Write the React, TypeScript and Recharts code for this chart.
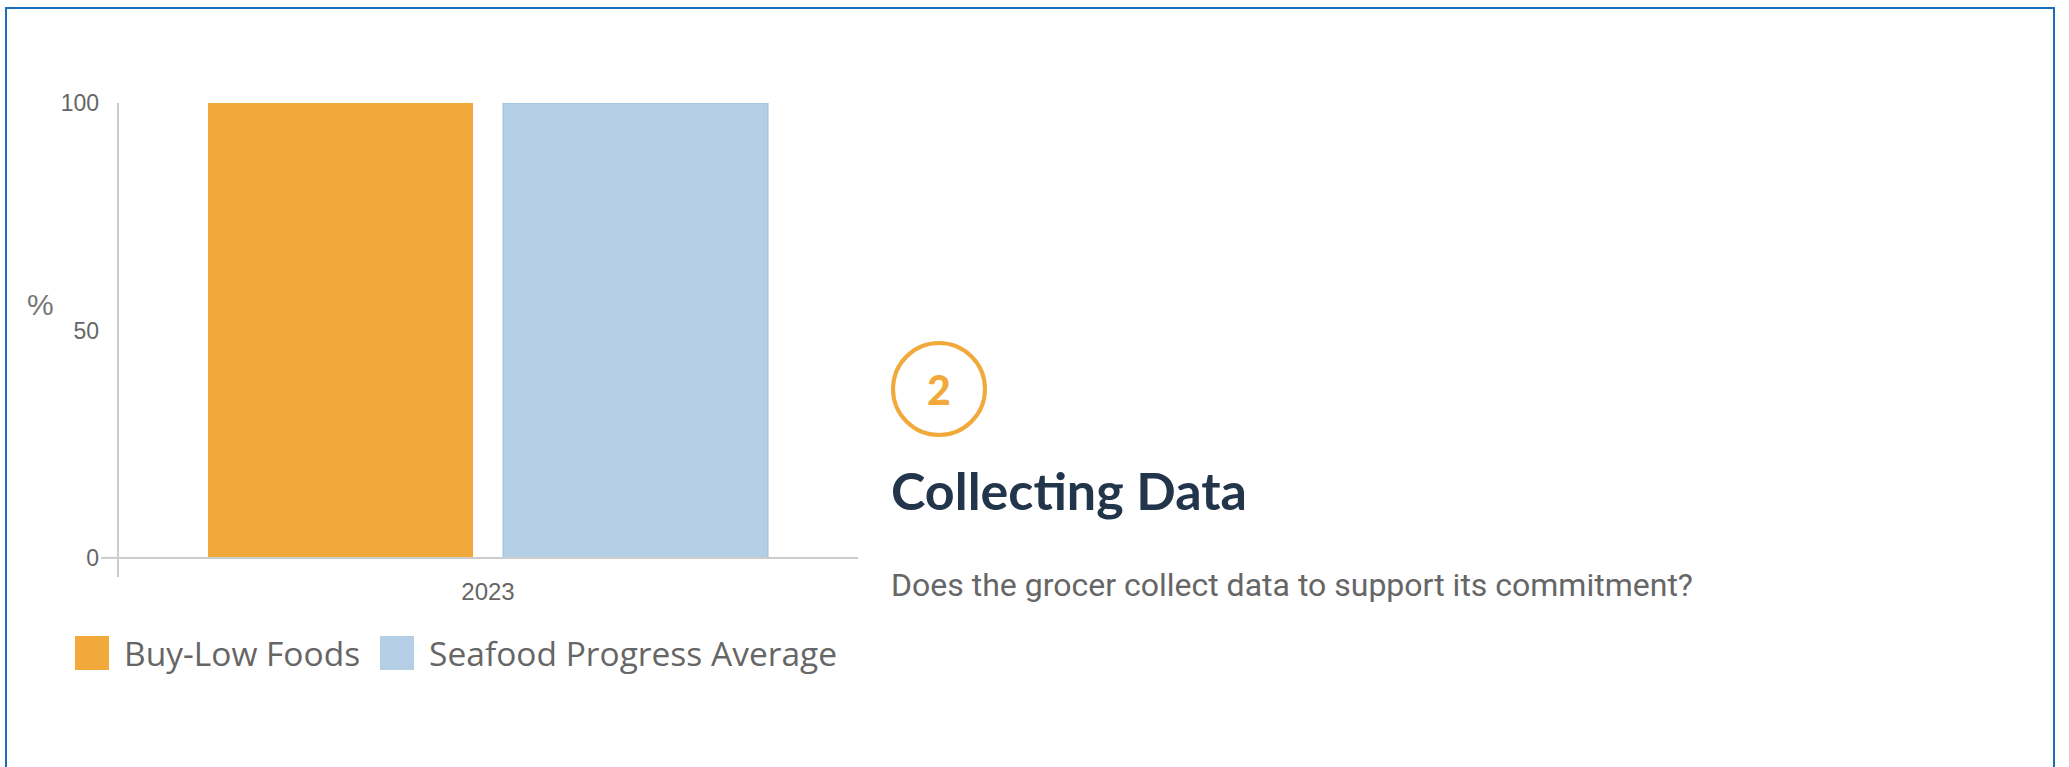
import React from "react";
import {
  BarChart,
  Bar,
  XAxis,
  YAxis,
  ReferenceLine,
} from "recharts";

const categories = ["2023"];
const buyLowValues = [100];
const averageValues = [100];
const yTicks = [0, 50, 100];

const seriesNames = ["Buy-Low Foods", "Seafood Progress Average"];
const seriesColors = ["#F2A93B", "#B3CEE5"];

const chartData = categories.map((year, i) => ({
  name: year,
  buyLow: buyLowValues[i],
  average: averageValues[i],
}));

const AXIS_GREY = "#cccccc";
const TEXT_GREY = "#666666";

const YTick: React.FC<any> = ({ x, y, payload }) => {
  return (
    <g>
      <text
        x={x}
        y={y}
        dy="0.355em"
        textAnchor="end"
        fill={TEXT_GREY}
        fontSize={23}
        fontFamily="'Liberation Sans', Arial, sans-serif"
      >
        {payload.value}
      </text>
      {payload.value === 0 && (
        <line x1={x + 2} y1={y} x2={x + 19} y2={y} stroke={AXIS_GREY} strokeWidth={2} />
      )}
    </g>
  );
};

const LegendRow: React.FC = () => (
  <div
    style={{
      position: "absolute",
      left: 75,
      top: 630,
      display: "flex",
      alignItems: "center",
      fontFamily: "'Open Sans', sans-serif",
      fontSize: 33.5,
      color: TEXT_GREY,
      whiteSpace: "nowrap",
    }}
  >
    {seriesNames.map((name, i) => (
      <div key={name} style={{ display: "flex", alignItems: "center", marginRight: 20 }}>
        <span
          style={{
            display: "inline-block",
            width: 34,
            height: 34,
            background: seriesColors[i],
            marginRight: 15,
          }}
        />
        <span>{name}</span>
      </div>
    ))}
  </div>
);

export default function App() {
  return (
    <div
      style={{
        position: "absolute",
        left: 0,
        top: 0,
        width: 2069,
        height: 767,
        overflow: "hidden",
        background: "#ffffff",
      }}
    >
      <div
        style={{
          position: "absolute",
          left: 5,
          top: 7,
          width: 2046,
          height: 900,
          border: "2px solid #1a6db8",
        }}
      />
      <div style={{ position: "absolute", left: 0, top: 0 }}>
        <BarChart
          width={880}
          height={625}
          data={chartData}
          margin={{ top: 103, right: 22, left: 0, bottom: 25 }}
          barCategoryGap={90}
          barGap={30}
        >
          <XAxis
            dataKey="name"
            height={23}
            axisLine={false}
            tickLine={false}
            tickMargin={0}
            tick={{ fill: TEXT_GREY, fontSize: 24, fontFamily: "'Liberation Sans', Arial, sans-serif" }}
          />
          <YAxis
            width={118}
            domain={[-4.2, 100]}
            allowDataOverflow
            ticks={yTicks}
            axisLine={{ stroke: AXIS_GREY, strokeWidth: 2 }}
            tickLine={false}
            tickMargin={13}
            tick={<YTick />}
            label={{
              value: "%",
              position: "insideLeft",
              offset: 27,
              dy: -36,
              fill: "#777777",
              fontSize: 30,
              fontFamily: "'Liberation Sans', Arial, sans-serif",
            }}
          />
          <ReferenceLine y={0} stroke={AXIS_GREY} strokeWidth={2} />
          <Bar
            dataKey="buyLow"
            name={seriesNames[0]}
            fill={seriesColors[0]}
            isAnimationActive={false}
          />
          <Bar
            dataKey="average"
            name={seriesNames[1]}
            fill={seriesColors[1]}
            stroke="#9cbfe0"
            strokeWidth={1}
            isAnimationActive={false}
          />
        </BarChart>
      </div>
      <LegendRow />
      <div
        style={{
          position: "absolute",
          left: 891,
          top: 341,
          width: 88,
          height: 88,
          borderRadius: "50%",
          border: "4px solid #F2A93B",
          display: "flex",
          alignItems: "center",
          justifyContent: "center",
          fontFamily: "Lato, sans-serif",
          fontWeight: 900,
          fontSize: 41,
          color: "#F2A93B",
          lineHeight: 1,
        }}
      >
        2
      </div>
      <div
        style={{
          position: "absolute",
          left: 891,
          top: 464,
          fontFamily: "Lato, sans-serif",
          fontWeight: 700,
          fontSize: 52,
          lineHeight: "52px",
          color: "#22354b",
          whiteSpace: "nowrap",
        }}
      >
        Collecting Data
      </div>
      <div
        style={{
          position: "absolute",
          left: 891,
          top: 569,
          fontFamily: "Roboto, sans-serif",
          fontSize: 32,
          lineHeight: "32px",
          color: TEXT_GREY,
          whiteSpace: "nowrap",
        }}
      >
        Does the grocer collect data to support its commitment?
      </div>
    </div>
  );
}
